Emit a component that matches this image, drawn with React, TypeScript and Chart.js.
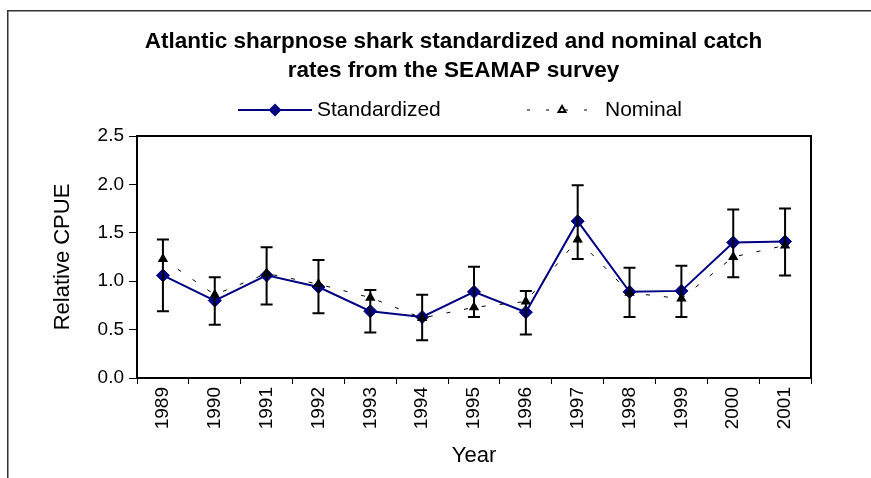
import React, { useEffect, useRef } from 'react';
import { Chart, registerables } from 'chart.js';

Chart.register(...registerables);

const years = ['1989', '1990', '1991', '1992', '1993', '1994', '1995', '1996', '1997', '1998', '1999', '2000', '2001'];
const standardized = [1.06, 0.80, 1.06, 0.94, 0.69, 0.63, 0.89, 0.68, 1.62, 0.89, 0.90, 1.40, 1.41];
const upperCI = [1.43, 1.04, 1.35, 1.22, 0.91, 0.86, 1.15, 0.90, 1.99, 1.14, 1.16, 1.74, 1.75];
const lowerCI = [0.69, 0.55, 0.76, 0.67, 0.47, 0.39, 0.63, 0.45, 1.23, 0.63, 0.63, 1.04, 1.06];
const nominal = [1.23, 0.86, 1.08, 0.97, 0.83, 0.62, 0.73, 0.79, 1.43, 0.88, 0.82, 1.25, 1.37];
const yTickLabels = ['0.0', '0.5', '1.0', '1.5', '2.0', '2.5'];
const titleLines = ['Atlantic sharpnose shark standardized and nominal catch', 'rates from the SEAMAP survey'];

const FONT = "'Liberation Sans', Arial, Helvetica, sans-serif";
const NAVY = '#000080';

const framePlugin = {
  id: 'frame',
  beforeDraw(chart: any) {
    const ctx = chart.ctx;
    ctx.save();
    ctx.fillStyle = '#ffffff';
    ctx.fillRect(0, 0, chart.width, chart.height);
    ctx.strokeStyle = '#333333';
    ctx.lineWidth = 1.5;
    ctx.strokeRect(7.75, 10.75, 1000, 1000);
    ctx.restore();
  },
};

const plotBoxPlugin = {
  id: 'plotBox',
  beforeDatasetsDraw(chart: any) {
    const { ctx, chartArea } = chart;
    ctx.save();
    ctx.strokeStyle = '#000000';
    ctx.lineWidth = 2;
    ctx.strokeRect(chartArea.left, chartArea.top, chartArea.right - chartArea.left, chartArea.bottom - chartArea.top);
    ctx.restore();
  },
};

const errorBarPlugin = {
  id: 'errorBars',
  afterDatasetDraw(chart: any, args: any) {
    if (args.index !== 0) return;
    const { ctx } = chart;
    const xs = chart.scales.x;
    const ys = chart.scales.y;
    ctx.save();
    ctx.strokeStyle = '#000000';
    ctx.lineWidth = 2;
    const cap = 6;
    for (let i = 0; i < years.length; i++) {
      const px = xs.getPixelForValue(i);
      const pt = ys.getPixelForValue(upperCI[i]);
      const pb = ys.getPixelForValue(lowerCI[i]);
      ctx.beginPath();
      ctx.moveTo(px, pt);
      ctx.lineTo(px, pb);
      ctx.moveTo(px - cap, pt);
      ctx.lineTo(px + cap, pt);
      ctx.moveTo(px - cap, pb);
      ctx.lineTo(px + cap, pb);
      ctx.stroke();
    }
    ctx.restore();
  },
};

const legendPlugin = {
  id: 'customLegend',
  afterDraw(chart: any) {
    const { ctx } = chart;
    const ds = chart.data.datasets;
    const y = 110;
    ctx.save();
    // Standardized sample
    ctx.strokeStyle = NAVY;
    ctx.lineWidth = 2;
    ctx.beginPath();
    ctx.moveTo(238, y);
    ctx.lineTo(312, y);
    ctx.stroke();
    ctx.fillStyle = NAVY;
    ctx.beginPath();
    ctx.moveTo(275 - 6.5, y);
    ctx.lineTo(275, y - 6.5);
    ctx.lineTo(275 + 6.5, y);
    ctx.lineTo(275, y + 6.5);
    ctx.closePath();
    ctx.fill();
    // Nominal sample
    ctx.strokeStyle = '#000000';
    ctx.lineWidth = 1;
    ctx.setLineDash([3, 16]);
    ctx.beginPath();
    ctx.moveTo(527, y);
    ctx.lineTo(590, y);
    ctx.stroke();
    ctx.setLineDash([]);
    ctx.lineWidth = 2;
    ctx.fillStyle = '#ffffff';
    const r = 4;
    ctx.beginPath();
    ctx.moveTo(562, y - r);
    ctx.lineTo(562 + r * 0.866, y + r * 0.5);
    ctx.lineTo(562 - r * 0.866, y + r * 0.5);
    ctx.closePath();
    ctx.fill();
    ctx.stroke();
    // texts
    ctx.fillStyle = '#000000';
    ctx.font = `21px ${FONT}`;
    ctx.textBaseline = 'middle';
    ctx.textAlign = 'left';
    ctx.fillText(ds[0].label, 317, y);
    ctx.fillText(ds[1].label, 605, y);
    ctx.restore();
  },
};

export default function App() {
  const ref = useRef<HTMLCanvasElement | null>(null);

  useEffect(() => {
    if (!ref.current) return;
    const chart = new Chart(ref.current, {
      type: 'line',
      data: {
        labels: years,
        datasets: [
          {
            label: 'Standardized',
            data: standardized,
            borderColor: NAVY,
            backgroundColor: NAVY,
            borderWidth: 2,
            pointStyle: 'rectRot',
            pointRadius: 6.5,
            pointBorderWidth: 1,
            pointBackgroundColor: NAVY,
            pointBorderColor: NAVY,
            tension: 0,
            order: 1,
          },
          {
            label: 'Nominal',
            data: nominal,
            borderColor: '#000000',
            backgroundColor: '#000000',
            borderWidth: 1,
            borderDash: [4, 14],
            pointStyle: 'triangle',
            pointRadius: 4.5,
            pointBorderWidth: 1.5,
            pointBackgroundColor: '#000000',
            pointBorderColor: '#000000',
            tension: 0,
            order: 0,
          },
        ],
      },
      options: {
        responsive: false,
        animation: false,
        events: [],
        layout: { padding: { left: 36, right: 0, top: 0, bottom: 0 } },
        plugins: {
          legend: { display: false },
          tooltip: { enabled: false },
          title: {
            display: true,
            text: titleLines,
            color: '#000000',
            font: { family: FONT, size: 22.5, weight: 'bold', lineHeight: 29 / 22.5 },
            padding: { top: 27.5, bottom: 50.5 },
          },
        },
        scales: {
          x: {
            type: 'category',
            offset: true,
            grid: { display: true, offset: true, drawOnChartArea: false, drawTicks: true, tickLength: 6, color: '#000000', lineWidth: 1 },
            border: { display: false },
            ticks: { color: '#000000', font: { family: FONT, size: 19 }, minRotation: 90, maxRotation: 90, autoSkip: false, padding: 3 },
            title: { display: true, text: 'Year', color: '#000000', font: { family: FONT, size: 22 }, padding: { top: 0, bottom: 8.5 } },
            afterFit: (s: any) => { s.height = 100; },
          },
          y: {
            type: 'linear',
            min: 0,
            max: 2.5,
            grid: { drawOnChartArea: false, drawTicks: true, tickLength: 8, color: '#000000', lineWidth: 1 },
            border: { display: false },
            ticks: {
              stepSize: 0.5,
              color: '#000000',
              font: { family: FONT, size: 19 },
              padding: 5,
              callback: (_v: any, i: number) => yTickLabels[i],
            },
            title: { display: true, text: 'Relative CPUE', color: '#000000', font: { family: FONT, size: 22 }, padding: { top: 13.8, bottom: 0 } },
            afterFit: (s: any) => { s.width = 101; },
          },
          y2: {
            type: 'linear',
            position: 'right',
            display: true,
            grid: { display: false },
            ticks: { display: false },
            border: { display: false },
            afterFit: (s: any) => { s.width = 60; },
          },
        },
      },
      plugins: [framePlugin, plotBoxPlugin, errorBarPlugin, legendPlugin],
    } as any);
    return () => chart.destroy();
  }, []);

  return (
    <div style={{ position: 'absolute', left: 0, top: 0, width: 871, height: 478 }}>
      <canvas ref={ref} width={871} height={478} style={{ width: 871, height: 478, display: 'block' }} />
    </div>
  );
}
